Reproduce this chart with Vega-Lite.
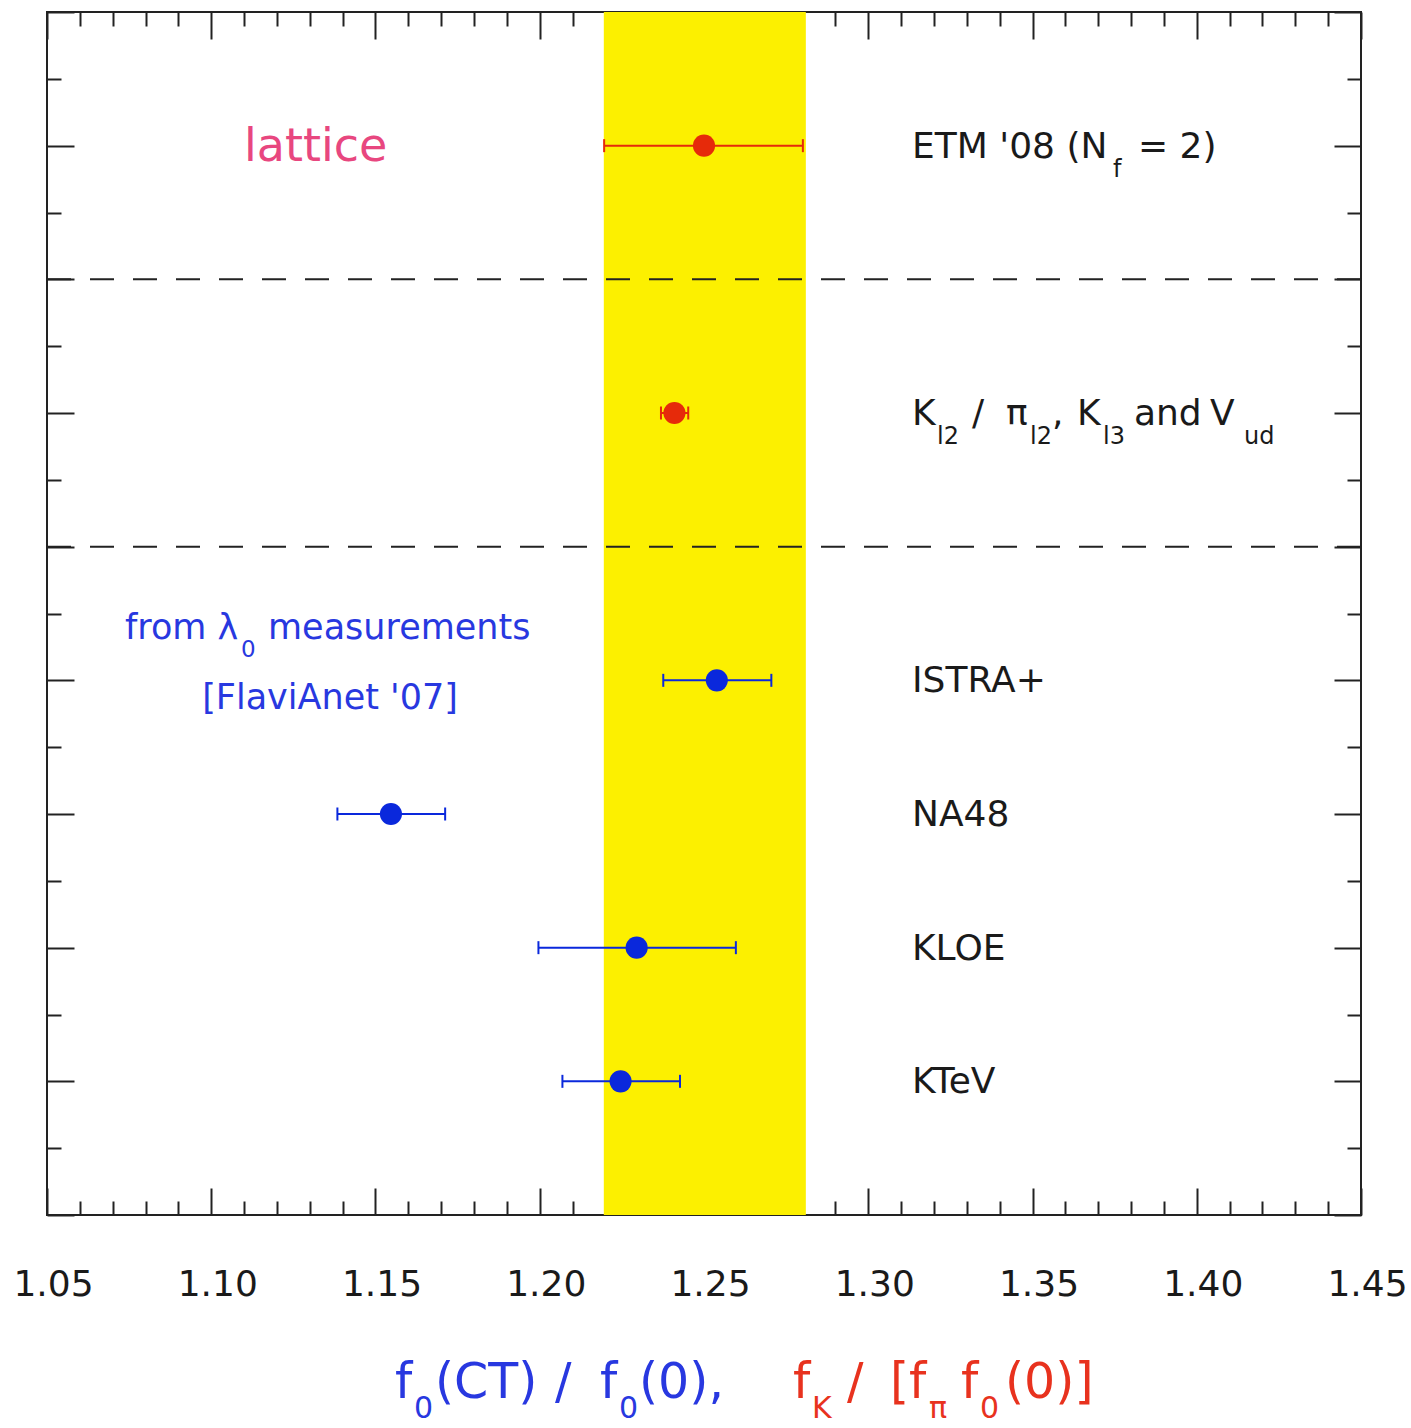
{
  "$schema": "https://vega.github.io/schema/vega-lite/v6.json",
  "width": 1314,
  "height": 1203,
  "autosize": {"type": "none"},
  "padding": {"left": 47, "top": 12, "right": 50, "bottom": 213},
  "background": "white",
  "config": {
    "font": "DejaVu Sans",
    "view": {"stroke": "#222", "strokeWidth": 2},
    "axis": {"grid": false, "domain": false, "labels": false, "ticks": true, "tickColor": "#222", "tickWidth": 2}
  },
  "datasets": {
    "band": [{"lo": 1.2195, "hi": 1.281}],
    "dividers": [{"y": 4}, {"y": 8}],
    "points": [
      {"name": "ETM '08 (Nf = 2)", "grp": "lattice", "x": 1.25, "lo": 1.2196, "hi": 1.2801, "y": 2},
      {"name": "Kl2 / πl2, Kl3 and Vud", "grp": "lattice", "x": 1.241, "lo": 1.2369, "hi": 1.2452, "y": 6},
      {"name": "ISTRA+", "grp": "FlaviAnet", "x": 1.2539, "lo": 1.2376, "hi": 1.2705, "y": 10},
      {"name": "NA48", "grp": "FlaviAnet", "x": 1.1547, "lo": 1.1384, "hi": 1.1712, "y": 12},
      {"name": "KLOE", "grp": "FlaviAnet", "x": 1.2295, "lo": 1.1996, "hi": 1.2597, "y": 14},
      {"name": "KTeV", "grp": "FlaviAnet", "x": 1.2246, "lo": 1.2069, "hi": 1.2427, "y": 16}
    ],
    "labels": [
      {"t": "ETM '08 (N", "x": 1.31332, "y": 2, "s": "main"},
      {"t": "= 2)", "x": 1.38212, "y": 2, "s": "main"},
      {"t": "K", "x": 1.31332, "y": 6, "s": "main"},
      {"t": "/", "x": 1.33158, "y": 6, "s": "main"},
      {"t": "π", "x": 1.34193, "y": 6, "s": "main"},
      {"t": ",", "x": 1.35594, "y": 6, "s": "main"},
      {"t": "K", "x": 1.36355, "y": 6, "s": "main"},
      {"t": "and", "x": 1.38089, "y": 6, "s": "main"},
      {"t": "V", "x": 1.40404, "y": 6, "s": "main"},
      {"t": "ISTRA+", "x": 1.31332, "y": 10, "s": "main"},
      {"t": "NA48", "x": 1.31332, "y": 12, "s": "main"},
      {"t": "KLOE", "x": 1.31332, "y": 14, "s": "main"},
      {"t": "KTeV", "x": 1.31332, "y": 16, "s": "main"},
      {"t": "f", "x": 1.37451, "y": 2, "s": "sub"},
      {"t": "l2", "x": 1.32093, "y": 6, "s": "sub"},
      {"t": "l2", "x": 1.34924, "y": 6, "s": "sub"},
      {"t": "l3", "x": 1.37146, "y": 6, "s": "sub"},
      {"t": "ud", "x": 1.41438, "y": 6, "s": "sub"},
      {"t": "from λ", "x": 1.07374, "y": 9.2, "s": "blue"},
      {"t": "measurements", "x": 1.11728, "y": 9.2, "s": "blue"},
      {"t": "0", "x": 1.10906, "y": 9.2, "s": "bluesub"},
      {"t": "[FlaviAnet '07]", "x": 1.13615, "y": 10.25, "s": "bluecenter"},
      {"t": "lattice", "x": 1.10997, "y": 2, "s": "lattice"},
      {"t": "f", "x": 1.15594, "y": 20.5, "s": "title", "p": "CT"},
      {"t": "(CT)", "x": 1.16811, "y": 20.5, "s": "title", "p": "CT"},
      {"t": "/", "x": 1.20464, "y": 20.5, "s": "title", "p": "CT"},
      {"t": "f", "x": 1.21834, "y": 20.5, "s": "title", "p": "CT"},
      {"t": "(0),", "x": 1.23021, "y": 20.5, "s": "title", "p": "CT"},
      {"t": "f", "x": 1.27709, "y": 20.5, "s": "title", "p": "lattice"},
      {"t": "/", "x": 1.29353, "y": 20.5, "s": "title", "p": "lattice"},
      {"t": "[f", "x": 1.30662, "y": 20.5, "s": "title", "p": "lattice"},
      {"t": "f", "x": 1.32825, "y": 20.5, "s": "title", "p": "lattice"},
      {"t": "(0)]", "x": 1.34163, "y": 20.5, "s": "title", "p": "lattice"},
      {"t": "0", "x": 1.16172, "y": 20.5, "s": "titlesub", "p": "CT"},
      {"t": "0", "x": 1.22413, "y": 20.5, "s": "titlesub", "p": "CT"},
      {"t": "K", "x": 1.28288, "y": 20.5, "s": "titlesub", "p": "lattice"},
      {"t": "π", "x": 1.31849, "y": 20.5, "s": "titlesub", "p": "lattice"},
      {"t": "0", "x": 1.33403, "y": 20.5, "s": "titlesub", "p": "lattice"}
    ]
  },
  "layer": [
    {
      "data": {"name": "band"},
      "mark": {"type": "rect", "color": "#fcf000"},
      "encoding": {
        "x": {"field": "lo", "type": "quantitative", "scale": {"domain": [1.05, 1.45], "nice": false, "zero": false},
          "axis": {"orient": "bottom", "title": null, "ticks": false, "labels": true, "values": [1.05, 1.1, 1.15, 1.2, 1.25, 1.3, 1.35, 1.4, 1.45], "format": ".2f", "labelFontSize": 36, "labelFont": "DejaVu Sans", "labelColor": "#1a1a1a", "labelPadding": 52, "labelFlush": false, "labelOverlap": false, "labelBound": false, "labelOffset": 6}},
        "x2": {"field": "hi"}
      }
    },
    {
      "data": {"name": "dividers"},
      "mark": {"type": "rule", "color": "#222", "strokeWidth": 2, "strokeDash": [24, 19]},
      "encoding": {
        "y": {"field": "y", "type": "quantitative", "scale": {"domain": [0, 18], "nice": false, "zero": false, "reverse": true},
          "axis": {"orient": "left", "title": null, "values": [0, 2, 4, 6, 8, 10, 12, 14, 16, 18], "offset": -27, "tickSize": 27}}
      }
    },
    {
      "data": {"name": "points"},
      "mark": {"type": "rule", "strokeWidth": 2},
      "encoding": {
        "x": {"field": "lo", "type": "quantitative", "scale": {"domain": [1.05, 1.45], "nice": false, "zero": false},
          "axis": {"orient": "bottom", "title": null, "values": [1.05, 1.1, 1.15, 1.2, 1.25, 1.3, 1.35, 1.4, 1.45], "offset": -27, "tickSize": 27}},
        "x2": {"field": "hi"},
        "y": {"field": "y", "type": "quantitative", "scale": {"domain": [0, 18], "nice": false, "zero": false, "reverse": true},
          "axis": {"orient": "left", "title": null, "values": [1, 3, 5, 7, 9, 11, 13, 15, 17], "offset": -14, "tickSize": 14}},
        "color": {"field": "grp", "type": "nominal", "scale": {"domain": ["lattice", "FlaviAnet"], "range": ["#e62a0a", "#0a28dc"]}, "legend": null}
      }
    },
    {
      "data": {"name": "points"},
      "transform": [{"fold": ["lo", "hi"], "as": ["end", "val"]}],
      "mark": {"type": "tick", "orient": "vertical", "size": 13, "thickness": 2, "opacity": 1},
      "encoding": {
        "x": {"field": "val", "type": "quantitative", "scale": {"domain": [1.05, 1.45], "nice": false, "zero": false},
          "axis": {"orient": "bottom", "title": null, "values": [1.06, 1.07, 1.08, 1.09, 1.11, 1.12, 1.13, 1.14, 1.16, 1.17, 1.18, 1.19, 1.21, 1.22, 1.23, 1.24, 1.26, 1.27, 1.28, 1.29, 1.31, 1.32, 1.33, 1.34, 1.36, 1.37, 1.38, 1.39, 1.41, 1.42, 1.43, 1.44], "offset": -14, "tickSize": 14}},
        "y": {"field": "y", "type": "quantitative", "scale": {"domain": [0, 18], "nice": false, "zero": false, "reverse": true},
          "axis": {"orient": "right", "title": null, "values": [0, 2, 4, 6, 8, 10, 12, 14, 16, 18], "offset": -27, "tickSize": 27}},
        "color": {"field": "grp", "type": "nominal", "scale": {"domain": ["lattice", "FlaviAnet"], "range": ["#e62a0a", "#0a28dc"]}, "legend": null}
      }
    },
    {
      "data": {"name": "points"},
      "mark": {"type": "point", "shape": "circle", "filled": true, "size": 490, "opacity": 1},
      "encoding": {
        "x": {"field": "x", "type": "quantitative", "scale": {"domain": [1.05, 1.45], "nice": false, "zero": false},
          "axis": {"orient": "top", "title": null, "values": [1.05, 1.1, 1.15, 1.2, 1.25, 1.3, 1.35, 1.4, 1.45], "offset": -27, "tickSize": 27}},
        "y": {"field": "y", "type": "quantitative", "scale": {"domain": [0, 18], "nice": false, "zero": false, "reverse": true},
          "axis": {"orient": "right", "title": null, "values": [1, 3, 5, 7, 9, 11, 13, 15, 17], "offset": -14, "tickSize": 14}},
        "color": {"field": "grp", "type": "nominal", "scale": {"domain": ["lattice", "FlaviAnet"], "range": ["#e62a0a", "#0a28dc"]}, "legend": null}
      }
    },
    {
      "data": {"name": "labels"},
      "transform": [{"filter": "datum.s === 'main'"}],
      "mark": {"type": "text", "align": "left", "baseline": "alphabetic", "dy": 12, "fontSize": 36, "font": "DejaVu Sans", "color": "#1a1a1a"},
      "encoding": {
        "x": {"field": "x", "type": "quantitative", "scale": {"domain": [1.05, 1.45], "nice": false, "zero": false},
          "axis": {"orient": "top", "title": null, "values": [1.06, 1.07, 1.08, 1.09, 1.11, 1.12, 1.13, 1.14, 1.16, 1.17, 1.18, 1.19, 1.21, 1.22, 1.23, 1.24, 1.26, 1.27, 1.28, 1.29, 1.31, 1.32, 1.33, 1.34, 1.36, 1.37, 1.38, 1.39, 1.41, 1.42, 1.43, 1.44], "offset": -14, "tickSize": 14}},
        "y": {"field": "y", "type": "quantitative", "scale": {"domain": [0, 18], "nice": false, "zero": false, "reverse": true}, "axis": null},
        "text": {"field": "t"}
      }
    },
    {
      "data": {"name": "labels"},
      "transform": [{"filter": "datum.s === 'sub'"}],
      "mark": {"type": "text", "align": "left", "baseline": "alphabetic", "dy": 31, "fontSize": 24, "font": "DejaVu Sans", "color": "#1a1a1a"},
      "encoding": {
        "x": {"field": "x", "type": "quantitative", "axis": null},
        "y": {"field": "y", "type": "quantitative", "axis": null},
        "text": {"field": "t"}
      }
    },
    {
      "data": {"name": "labels"},
      "transform": [{"filter": "datum.s === 'blue'"}],
      "mark": {"type": "text", "align": "left", "baseline": "alphabetic", "dy": 12, "fontSize": 35, "font": "DejaVu Sans", "color": "#2838e0"},
      "encoding": {
        "x": {"field": "x", "type": "quantitative", "axis": null},
        "y": {"field": "y", "type": "quantitative", "axis": null},
        "text": {"field": "t"}
      }
    },
    {
      "data": {"name": "labels"},
      "transform": [{"filter": "datum.s === 'bluesub'"}],
      "mark": {"type": "text", "align": "left", "baseline": "alphabetic", "dy": 30, "fontSize": 23, "font": "DejaVu Sans", "color": "#2838e0"},
      "encoding": {
        "x": {"field": "x", "type": "quantitative", "axis": null},
        "y": {"field": "y", "type": "quantitative", "axis": null},
        "text": {"field": "t"}
      }
    },
    {
      "data": {"name": "labels"},
      "transform": [{"filter": "datum.s === 'bluecenter'"}],
      "mark": {"type": "text", "align": "center", "baseline": "alphabetic", "dy": 12, "fontSize": 35, "font": "DejaVu Sans", "color": "#2838e0"},
      "encoding": {
        "x": {"field": "x", "type": "quantitative", "axis": null},
        "y": {"field": "y", "type": "quantitative", "axis": null},
        "text": {"field": "t"}
      }
    },
    {
      "data": {"name": "labels"},
      "transform": [{"filter": "datum.s === 'lattice'"}],
      "mark": {"type": "text", "align": "left", "baseline": "alphabetic", "dy": 15, "fontSize": 46, "font": "DejaVu Sans", "color": "#e8477f"},
      "encoding": {
        "x": {"field": "x", "type": "quantitative", "axis": null},
        "y": {"field": "y", "type": "quantitative", "axis": null},
        "text": {"field": "t"}
      }
    },
    {
      "data": {"name": "labels"},
      "transform": [{"filter": "datum.s === 'title'"}],
      "mark": {"type": "text", "align": "left", "baseline": "alphabetic", "dy": 16, "fontSize": 49, "font": "DejaVu Sans"},
      "encoding": {
        "x": {"field": "x", "type": "quantitative", "axis": null},
        "y": {"field": "y", "type": "quantitative", "axis": null},
        "text": {"field": "t"},
        "color": {"field": "p", "type": "nominal", "scale": {"domain": ["CT", "lattice"], "range": ["#2838e0", "#e8321e"]}, "legend": null}
      }
    },
    {
      "data": {"name": "labels"},
      "transform": [{"filter": "datum.s === 'titlesub'"}],
      "mark": {"type": "text", "align": "left", "baseline": "alphabetic", "dy": 36, "fontSize": 30, "font": "DejaVu Sans"},
      "encoding": {
        "x": {"field": "x", "type": "quantitative", "axis": null},
        "y": {"field": "y", "type": "quantitative", "axis": null},
        "text": {"field": "t"},
        "color": {"field": "p", "type": "nominal", "scale": {"domain": ["CT", "lattice"], "range": ["#2838e0", "#e8321e"]}, "legend": null}
      }
    }
  ],
  "resolve": {"axis": {"x": "independent", "y": "independent"}, "scale": {"color": "independent"}}
}
